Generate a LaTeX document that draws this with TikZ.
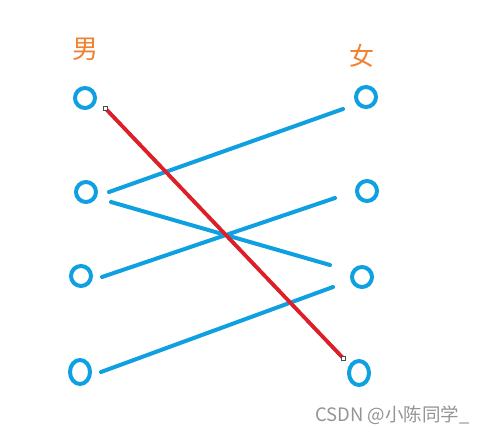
\documentclass[tikz,border=0pt]{standalone}
\usepackage{fontspec}
\usepackage{xcolor}
\usepackage{tikz}
\usetikzlibrary{shapes.geometric}
\newfontfamily\cjk{Noto Sans CJK SC}
\definecolor{ringblue}{RGB}{14,160,224}
\definecolor{matchred}{RGB}{228,28,38}
\definecolor{labelorange}{RGB}{240,128,50}

\begin{document}
\begin{tikzpicture}[x=1pt,y=-1pt]
			\useasboundingbox (0,0) rectangle (487,436);
			\tikzset{ring/.style={draw=ringblue,line width=4pt,ellipse,inner sep=0pt,minimum width=20pt,minimum height=20pt},
				tallring/.style={ring,minimum height=24pt},
				bluelink/.style={draw=ringblue,line width=4pt,line cap=round},
				handle/.style={draw=black!70,fill=white,line width=.6pt,inner sep=0pt,minimum size=4pt}}
			
			\node[text=labelorange,font=\cjk\fontsize{26}{26}\selectfont] (men) at (85,49) {男};
			\node[text=labelorange,font=\cjk\fontsize{25}{25}\selectfont] (women) at (362,56) {女};
			
			\node[ring] (m1) at (85,98) {};
			\node[ring] (m2) at (86,192) {};
			\node[ring] (m3) at (81,276) {};
			\node[tallring] (m4) at (80,372) {};
			
			\node[ring] (w1) at (366,97) {};
			\node[ring] (w2) at (367,191) {};
			\node[ring] (w3) at (362,277) {};
			\node[tallring] (w4) at (359,373) {};
			
			\coordinate (m2a) at (109,192);
			\coordinate (m2b) at (111,202);
			\coordinate (m3a) at (102,277);
			\coordinate (m4a) at (101,372);
			\coordinate (w1a) at (343,109);
			\coordinate (w2a) at (335,198);
			\coordinate (w3a) at (330,265);
			\coordinate (w3b) at (333,287);
			
			\draw[bluelink] (m2a) -- (w1a);
			\draw[bluelink] (m2b) -- (w3a);
			\draw[bluelink] (m3a) -- (w2a);
			\draw[bluelink] (m4a) -- (w3b);
			
			%red match
			\coordinate (m1a) at (105,108);
			\coordinate (w4a) at (343,358);
			\draw[draw=black!55,line width=3.6pt,shift={(-0.9,0.6)}] (m1a) -- (w4a);
			\draw[draw=matchred,line width=3.6pt] (m1a) -- (w4a);
			\node[handle] (h1) at (m1a) {};
			\node[handle] (h2) at (w4a) {};
			
			\node[text=black!42,font=\cjk\fontsize{18.5}{18.5}\selectfont,anchor=east] (mark) at (473,415) {CSDN @小陈同学\_};
		\end{tikzpicture}
\end{document}
